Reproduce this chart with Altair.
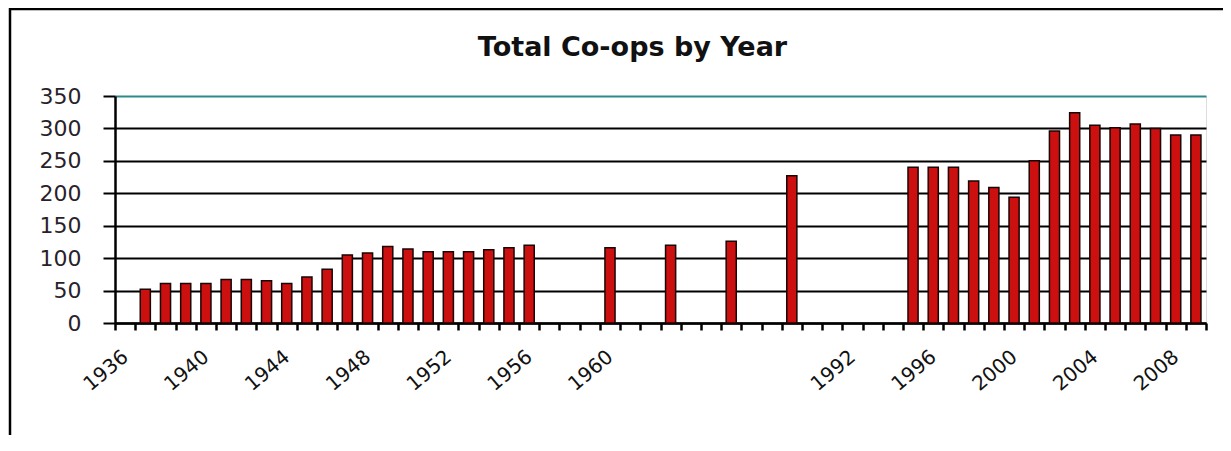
import altair as alt
import pandas as pd

# Category labels (Excel-style category axis, blanks where the sheet had empty rows)
categories = [
    "1936", "1937", "1938", "1939", "1940", "1941", "1942", "1943", "1944", "1945",
    "1946", "1947", "1948", "1949", "1950", "1951", "1952", "1953", "1954", "1955",
    "1956", "1957", "1958", "1959", "1960", "", "", "1970", "", "",
    "1980", "", "", "1990", "", "", "1992", "1993", "1994", "1995",
    "1996", "1997", "1998", "1999", "2000", "2001", "2002", "2003", "2004", "2005",
    "2006", "2007", "2008", "2009",
]
# Total co-ops per category (None = no bar)
values = [
    None, 52, 61, 61, 61, 67, 67, 65, 61, 71,
    83, 105, 108, 118, 114, 110, 110, 110, 113, 116,
    120, None, None, None, 116, None, None, 120, None, None,
    126, None, None, 227, None, None, None, None, None, 240,
    240, 240, 219, 209, 194, 250, 296, 324, 305, 301,
    307, 300, 290, 290,
]
y_ticks = [0, 50, 100, 150, 200, 250, 300, 350]

idx = list(range(len(categories)))
df = pd.DataFrame({"idx": idx, "cat": categories, "value": values}).dropna()

js_labels = "[" + ",".join("'" + c + "'" for c in categories) + "]"
label_expr = f"datum.value % 4 == 0 ? {js_labels}[datum.value] : ''"

TEAL = "#2E8A8A"

bars = alt.Chart(df).mark_bar(
    width=alt.RelativeBandSize(0.5),
    color="#CC1010",
    stroke="#1A0505",
    strokeWidth=1.5,
).encode(
    x=alt.X(
        "idx:O",
        title=None,
        scale=alt.Scale(domain=idx, paddingInner=0, paddingOuter=0),
        axis=alt.Axis(
            labelExpr=label_expr,
            labelAngle=-40,
            labelAlign="right",
            labelBaseline="middle",
            labelFont="DejaVu Sans",
            labelFontSize=20,
            labelColor="#111111",
            labelPadding=24,
            labelOverlap=False,
            tickBand="extent",
            tickSize=7,
            tickWidth=2.5,
            tickColor="black",
            domainColor="black",
            domainWidth=2.5,
            grid=False,
        ),
    ),
    y=alt.Y(
        "value:Q",
        title=None,
        scale=alt.Scale(domain=[0, 350], nice=False),
        axis=alt.Axis(
            values=y_ticks,
            labelFont="DejaVu Sans",
            labelFontSize=22,
            labelColor="#2a1f2a",
            labelPadding=22,
            tickSize=12,
            tickWidth=2,
            tickColor="black",
            domainColor="black",
            domainWidth=2.5,
            grid=True,
            gridColor=alt.condition("datum.value == 350", alt.value(TEAL), alt.value("black")),
            gridWidth=2,
            gridOpacity=1,
        ),
    ),
)

frame = alt.Chart(pd.DataFrame({"a": [0]})).mark_rect(
    fillOpacity=0, stroke="black", strokeWidth=2.5
).encode(
    x=alt.value(-105), x2=alt.value(1160), y=alt.value(-87), y2=alt.value(600)
)

chart = alt.layer(frame, bars).properties(
    width=1091,
    height=227,
    autosize=alt.AutoSizeParams(type="none"),
    padding={"left": 107, "top": 88, "right": 17, "bottom": 112},
    title=alt.TitleParams(
        "Total Co-ops by Year",
        font="DejaVu Sans",
        fontSize=27,
        fontWeight="bold",
        color="#111111",
        offset=0,
        dy=75,
        baseline="alphabetic",
        dx=-28,
    ),
).configure_view(stroke=TEAL, strokeWidth=2).configure(background="white")

chart.save("out.html", embed_options={"renderer": "svg", "actions": False})
